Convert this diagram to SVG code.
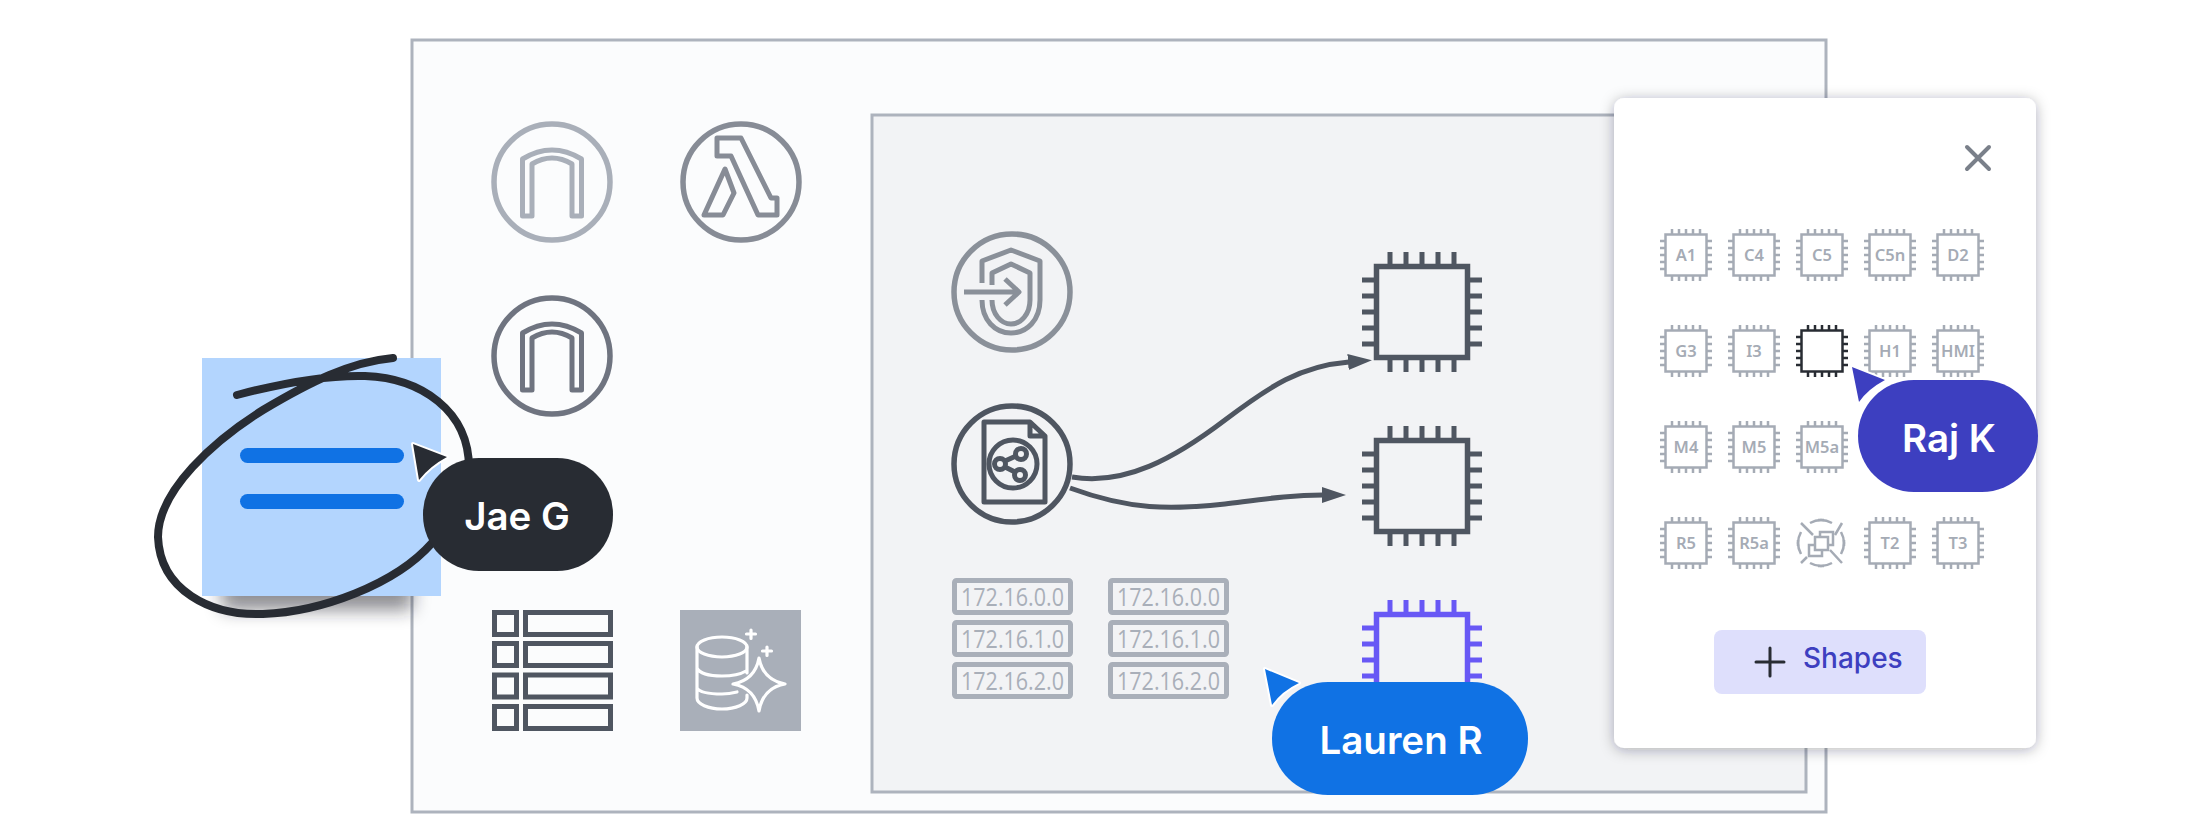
<svg xmlns="http://www.w3.org/2000/svg" width="2200" height="840" viewBox="0 0 2200 840">
<style>
.ln{fill:none;stroke-linejoin:round}
.frame{stroke:#adb3bd;stroke-width:3}
.pill{font-family:Inter,"Noto Sans",sans-serif;font-weight:600;font-size:38.500px;fill:#fff;text-anchor:middle}
.chipt{font-family:"Noto Sans","Open Sans",sans-serif;font-weight:600;font-size:16.500px;fill:#a5abb5;text-anchor:middle}
.ip{font-family:"Open Sans","Noto Sans",sans-serif;font-size:26px;fill:#a9afb9}
.ipb{fill:#f2f3f5;stroke:#a9afb9;stroke-width:5}
.cur{stroke:#fff;stroke-width:4;stroke-linejoin:round;paint-order:stroke}
.conn{fill:none;stroke:#4f5661;stroke-width:5;marker-end:url(#arrow)}
.tb{fill:#fbfcfd;stroke:#4f5661;stroke-width:5}
.chipS{color:#a5abb5}
.w{fill:none;stroke:#fff;stroke-width:3.200;stroke-linecap:round;stroke-linejoin:round}
</style>
<defs>
<marker id="arrow" markerUnits="userSpaceOnUse" markerWidth="24" markerHeight="18" refX="1" refY="8" orient="auto"><path d="M0 0L24 8L0 16Z" fill="#4f5661"/></marker>
<filter id="panelShadow" x="-15%" y="-10%" width="130%" height="120%"><feDropShadow dx="0" dy="2" stdDeviation="7" flood-color="#1a1f28" flood-opacity=".32"/></filter>
<filter id="blur" x="-30%" y="-60%" width="160%" height="220%"><feGaussianBlur stdDeviation="9"/></filter>
<g id="chipL" fill="none" stroke="currentColor" stroke-width="5"><rect x="-45.500" y="-45.500" width="91" height="91" stroke-width="5.500"/><path d="M-32 -48V-60M-16 -48V-60M0 -48V-60M16 -48V-60M32 -48V-60M-32 48V60M-16 48V60M0 48V60M16 48V60M32 48V60M-48 -32H-60M-48 -16H-60M-48 0H-60M-48 16H-60M-48 32H-60M48 -32H60M48 -16H60M48 0H60M48 16H60M48 32H60"/></g>
<g id="chipS" fill="none" stroke="currentColor" stroke-width="2.500"><rect x="-20.500" y="-20.500" width="41" height="41"/><path d="M-14 -20V-26M-7 -20V-26M0 -20V-26M7 -20V-26M14 -20V-26M-14 20V26M-7 20V26M0 20V26M7 20V26M14 20V26M-20 -14H-26M-20 -7H-26M-20 0H-26M-20 7H-26M-20 14H-26M20 -14H26M20 -7H26M20 0H26M20 7H26M20 14H26"/></g>
<path id="arch" class="ln" stroke-width="5" d="M-29.500 34V-23Q0 -41 29.500 -23V34H20V-18Q0 -30 -20 -18V34Z"/>
</defs>
<rect width="2200" height="840" fill="#fff"/>
<g id="outer-frame"><rect class="frame" x="412" y="40" width="1414" height="772" fill="#fbfcfd"/></g>
<g id="inner-frame"><rect class="frame" x="872" y="115" width="934" height="677" fill="#f2f3f5"/></g>

<g id="node-arch-light" stroke="#a9afb9"><circle cx="552" cy="182" r="58" fill="none" stroke-width="5.500"/><use href="#arch" x="552" y="182"/></g>
<g id="node-lambda" stroke="#878c96"><circle cx="741" cy="182" r="58" fill="none" stroke-width="5.500"/><path class="ln" stroke-width="5" transform="translate(741 182)" d="M-24 -44H0L30 16H36V33H17L-10 -26H-24ZM-16 -13L-7 11L-18 33H-37Z"/></g>
<g id="node-arch" stroke="#6f7480"><circle cx="552" cy="356" r="58" fill="none" stroke-width="5.500"/><use href="#arch" x="552" y="356"/></g>

<g id="node-table">
<rect class="tb" x="494.500" y="612.500" width="22" height="22"/><rect class="tb" x="525.500" y="612.500" width="85" height="22"/>
<rect class="tb" x="494.500" y="643.500" width="22" height="22"/><rect class="tb" x="525.500" y="643.500" width="85" height="22"/>
<rect class="tb" x="494.500" y="675" width="22" height="22"/><rect class="tb" x="525.500" y="675" width="85" height="22"/>
<rect class="tb" x="494.500" y="706.500" width="22" height="22"/><rect class="tb" x="525.500" y="706.500" width="85" height="22"/>
</g>
<g id="node-database">
<rect x="680" y="610" width="121" height="121" fill="#a9afb9"/>
<ellipse class="w" cx="722" cy="647" rx="25" ry="10"/>
<path class="w" d="M697 647V698C697 704 708 709 722 709C736 709 747 704 747 698V695M747 647V673M697 668C700 674 710 676 722 676C732 676 741 674 746 671M697 688C700 693 710 694 722 694C728 694 733 693 737 692"/>
<path class="w" d="M759 658Q763 680 785 684Q763 688 759 711Q755 688 733 684Q755 680 759 658Z"/>
<path class="w" d="M751 630V638.500M746.500 634H755.500M767 647V655.500M762.500 651H771.500"/>
</g>

<g id="node-shield" stroke="#8a9099" fill="none"><circle cx="1012" cy="292" r="58" stroke-width="5.500"/><path transform="translate(1012 292)" class="ln" stroke-width="5" d="M-30 -9V-31L-1 -42L28 -31V8C28 28 15 41 -1 41C-17 41 -30 28 -30 8M-20 -7V-19L-1 -28L18 -19V8C18 22 9 32 -1 32C-11 32 -20 22 -20 8M-48 0H7M-7 -13L7 0L-7 13"/></g>
<g id="node-document" stroke="#4f5661" fill="none"><circle cx="1012" cy="464" r="58" stroke-width="5.500"/><g transform="translate(1012 464)" class="ln" stroke-width="5"><path d="M-28 -42H18L33 -28V38H-28ZM18 -42V-28H33"/><circle cx="1" cy="0" r="24"/><circle cx="-12" cy="0" r="5.500"/><circle cx="9" cy="-10" r="5.500"/><circle cx="8" cy="11" r="5.500"/><path d="M-7 -3L4 -8M-7 3L3 8"/></g></g>

<g id="node-chip-1" color="#4f5661"><use href="#chipL" x="1422" y="312"/></g>
<g id="node-chip-2" color="#4f5661"><use href="#chipL" x="1422" y="486"/></g>
<g id="node-chip-3" color="#6858f5"><use href="#chipL" x="1422" y="660"/></g>

<g id="connectors">
<path class="conn" d="M1072 477C1125 486 1175 458 1225 420C1270 386 1300 366 1349 362"/>
<path class="conn" d="M1070 488C1130 510 1170 510 1225 504C1265 499 1290 495 1323 495"/>
</g>

<g id="node-ip-1">
<rect class="ipb" x="954.500" y="580.500" width="116" height="32" rx="2"/><text class="ip" x="961" y="606" textLength="103" lengthAdjust="spacingAndGlyphs">172.16.0.0</text>
<rect class="ipb" x="954.500" y="622.500" width="116" height="32" rx="2"/><text class="ip" x="961" y="648" textLength="103" lengthAdjust="spacingAndGlyphs">172.16.1.0</text>
<rect class="ipb" x="954.500" y="664.500" width="116" height="32" rx="2"/><text class="ip" x="961" y="690" textLength="103" lengthAdjust="spacingAndGlyphs">172.16.2.0</text>
</g>
<g id="node-ip-2">
<rect class="ipb" x="1110.500" y="580.500" width="116" height="32" rx="2"/><text class="ip" x="1117" y="606" textLength="103" lengthAdjust="spacingAndGlyphs">172.16.0.0</text>
<rect class="ipb" x="1110.500" y="622.500" width="116" height="32" rx="2"/><text class="ip" x="1117" y="648" textLength="103" lengthAdjust="spacingAndGlyphs">172.16.1.0</text>
<rect class="ipb" x="1110.500" y="664.500" width="116" height="32" rx="2"/><text class="ip" x="1117" y="690" textLength="103" lengthAdjust="spacingAndGlyphs">172.16.2.0</text>
</g>

<g id="node-sticky">
<rect x="222" y="572" width="190" height="38" fill="#1a1f28" opacity=".5" filter="url(#blur)"/>
<rect x="202" y="358" width="239" height="238" fill="#b3d5fe"/>
<rect x="240" y="448" width="164" height="15" rx="7.500" fill="#1072e4"/>
<rect x="240" y="494" width="164" height="15" rx="7.500" fill="#1072e4"/>
</g>
<g id="scribble"><path fill="none" stroke="#282c33" stroke-width="8" stroke-linecap="round" d="M237 395C290 381 330 375 365 376C420 378 470 410 469 470C468 500 455 520 432 543C395 585 320 612 263 614C210 616 160 590 158 537C158 490 215 440 263 410C310 382 350 362 393 358"/></g>

<g id="node-jae">
<path class="cur" fill="#282c33" d="M413 444L447 457Q430 466 419 480Z"/>
<rect x="423" y="458" width="190" height="113" rx="56" fill="#282c33"/>
<text class="pill" x="517" y="530">Jae G</text>
</g>

<g id="node-lauren">
<path class="cur" fill="#1072e4" d="M1265 669L1299 683Q1282 691 1272 705Z"/>
<rect x="1272" y="682" width="256" height="113" rx="56" fill="#1072e4"/>
<text class="pill" x="1401" y="754">Lauren R</text>
</g>

<g id="panel">
<rect x="1614" y="98" width="422" height="650" rx="10" fill="#fff" filter="url(#panelShadow)"/>
<path d="M1967 147L1989 169M1989 147L1967 169" stroke="#7a808a" stroke-width="4" stroke-linecap="round" fill="none"/>
</g>
<g id="chips" class="chipS">
<g id="chip-a1"><use href="#chipS" x="1686" y="255"/><text class="chipt" x="1686" y="261">A1</text></g>
<g id="chip-c4"><use href="#chipS" x="1754" y="255"/><text class="chipt" x="1754" y="261">C4</text></g>
<g id="chip-c5"><use href="#chipS" x="1822" y="255"/><text class="chipt" x="1822" y="261">C5</text></g>
<g id="chip-c5n"><use href="#chipS" x="1890" y="255"/><text class="chipt" x="1890" y="261">C5n</text></g>
<g id="chip-d2"><use href="#chipS" x="1958" y="255"/><text class="chipt" x="1958" y="261">D2</text></g>
<g id="chip-g3"><use href="#chipS" x="1686" y="351"/><text class="chipt" x="1686" y="357">G3</text></g>
<g id="chip-i3"><use href="#chipS" x="1754" y="351"/><text class="chipt" x="1754" y="357">I3</text></g>
<g id="chip-active" color="#282c33"><use href="#chipS" x="1822" y="351"/></g>
<g id="chip-h1"><use href="#chipS" x="1890" y="351"/><text class="chipt" x="1890" y="357">H1</text></g>
<g id="chip-hmi"><use href="#chipS" x="1958" y="351"/><text class="chipt" x="1958" y="357">HMI</text></g>
<g id="chip-m4"><use href="#chipS" x="1686" y="447"/><text class="chipt" x="1686" y="453">M4</text></g>
<g id="chip-m5"><use href="#chipS" x="1754" y="447"/><text class="chipt" x="1754" y="453">M5</text></g>
<g id="chip-m5a"><use href="#chipS" x="1822" y="447"/><text class="chipt" x="1822" y="453">M5a</text></g>
<g id="chip-hidden"><rect x="1869" y="426" width="42" height="42" rx="5" fill="none" stroke="#a5abb5" stroke-width="2.500"/></g>
<g id="chip-r5"><use href="#chipS" x="1686" y="543"/><text class="chipt" x="1686" y="549">R5</text></g>
<g id="chip-r5a"><use href="#chipS" x="1754" y="543"/><text class="chipt" x="1754" y="549">R5a</text></g>
<g id="chip-resize" transform="translate(1821 543)" fill="none" stroke="#a5abb5" stroke-width="2.500">
<path d="M-20 -20L-8 -8M9 7L21 20M-20 20L-14 14M14 -8L21 -20"/>
<path d="M-11 -20A23 23 0 0 1 11 -20M20 -11A23 23 0 0 1 20 11M11 20A23 23 0 0 1 -11 20M-20 11A23 23 0 0 1 -20 -11"/>
<path d="M-3 -23H3M-3 23H3M-23 -3V3M23 -3V3"/>
<rect x="-6" y="-6" width="13" height="13"/>
<path d="M-1 -6V-11H12V2H7M-6 2H-12V13H1V7"/>
</g>
<g id="chip-t2"><use href="#chipS" x="1890" y="543"/><text class="chipt" x="1890" y="549">T2</text></g>
<g id="chip-t3"><use href="#chipS" x="1958" y="543"/><text class="chipt" x="1958" y="549">T3</text></g>
</g>

<g id="node-shapes-button">
<rect x="1714" y="630" width="212" height="64" rx="8" fill="#dedffc"/>
<path d="M1770 648V676M1756 662H1784" stroke="#282c33" stroke-width="3" stroke-linecap="round" fill="none"/>
<text x="1803" y="668" style="font-family:Inter,'Noto Sans',sans-serif;font-weight:500;font-size:28px;fill:#3d3fc0">Shapes</text>
</g>

<g id="node-raj">
<path class="cur" fill="#3d3fc0" d="M1852 367L1885 380Q1868 389 1859 402Z"/>
<rect x="1858" y="380" width="180" height="112" rx="56" fill="#3d3fc0"/>
<text class="pill" x="1949" y="452">Raj K</text>
</g>
</svg>
